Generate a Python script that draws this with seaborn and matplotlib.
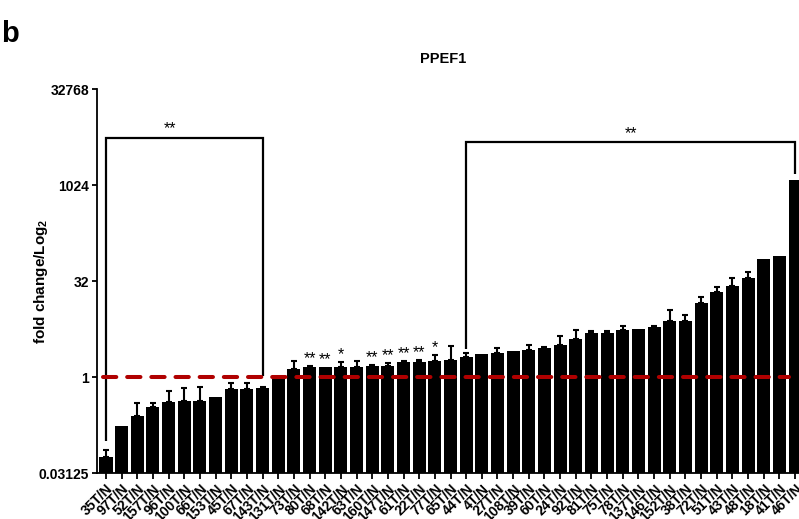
import numpy as np
import pandas as pd
import matplotlib
matplotlib.use("Agg")
import matplotlib.pyplot as plt
import seaborn as sns

# Samples ordered by tumour/normal fold change
samples = [
    "35T/N", "97T/N", "52T/N", "157T/N", "96T/N", "100T/N", "66T/N", "153T/N",
    "45T/N", "67T/N", "143T/N", "131T/N", "73T/N", "80T/N", "68T/N", "142T/N",
    "63T/N", "160T/N", "147T/N", "61T/N", "22T/N", "77T/N", "65T/N", "44T/N",
    "4T/N", "27T/N", "108T/N", "39T/N", "60T/N", "24T/N", "92T/N", "81T/N",
    "75T/N", "78T/N", "137T/N", "146T/N", "152T/N", "38T/N", "72T/N", "51T/N",
    "43T/N", "48T/N", "18T/N", "41T/N", "46T/N",
]
fold_change = [
    0.056, 0.172, 0.241, 0.341, 0.406, 0.42, 0.42, 0.48,
    0.646, 0.646, 0.664, 0.933, 1.34, 1.41, 1.45, 1.45,
    1.45, 1.5, 1.5, 1.74, 1.69, 1.78, 1.87, 2.03,
    2.3, 2.35, 2.58, 2.66, 2.89, 3.18, 3.95, 4.89,
    4.96, 5.46, 5.74, 6.15, 7.57, 7.57, 14.3, 21.7,
    27.1, 35.8, 71.0, 77.7, 1243.0,
]
sem_upper = [
    0.016, 0.0, 0.146, 0.046, 0.197, 0.258, 0.277, 0.0,
    0.161, 0.161, 0.043, 0.0, 0.44, 0.09, 0.0, 0.24,
    0.33, 0.06, 0.16, 0.04, 0.16, 0.45, 1.23, 0.32,
    0.0, 0.54, 0.0, 0.52, 0.10, 1.26, 1.51, 0.42,
    0.32, 0.90, 0.0, 0.21, 3.73, 1.93, 3.5, 4.3,
    8.2, 7.9, 0.0, 0.0, 0.0,
]
double_star = ["80T/N", "68T/N", "160T/N", "147T/N", "61T/N", "22T/N"]
single_star = ["142T/N", "77T/N"]
y_ticks = [0.03125, 1, 32, 1024, 32768]
y_tick_labels = ["0.03125", "1", "32", "1024", "32768"]

sns.set_style("ticks")
plt.rcParams["font.family"] = ["Liberation Sans", "DejaVu Sans"]
plt.rcParams["font.weight"] = "bold"
plt.rcParams["mathtext.fontset"] = "custom"
plt.rcParams["mathtext.rm"] = "Liberation Sans:bold"
plt.rcParams["mathtext.default"] = "rm"
for key in ["text.color", "axes.labelcolor", "xtick.color", "ytick.color",
            "axes.edgecolor"]:
    plt.rcParams[key] = "black"

fig = plt.figure(figsize=(7.99, 5.19), dpi=100)
ax = fig.add_axes([0.1214, 0.0886, 0.8786, 0.7399])
ax.set_yscale("log", base=2)

df = pd.DataFrame({"sample": samples, "fc": fold_change})
sns.barplot(data=df, x="sample", y="fc", color="black", saturation=1,
            width=0.84, errorbar=None, edgecolor="none", ax=ax, zorder=2)

fc = np.array(fold_change)
err = np.array(sem_upper)
idx = np.where(err > 0)[0]
ax.errorbar(idx, fc[idx], yerr=[np.zeros(len(idx)), err[idx]], fmt="none",
            ecolor="black", elinewidth=1.5, capsize=2.3, capthick=1.5, zorder=3)

# reference level at fold change = 1
ax.plot([-0.2, 43.6], [1, 1], color="#B00000", lw=2.9, dashes=(3.3, 2.7),
        dash_capstyle="round", zorder=5)

# significance marks on individual samples
top = fc + err
for name in double_star + single_star:
    i = samples.index(name)
    mark = "**" if name in double_star else "*"
    ax.annotate(mark, (i, top[i]), xytext=(0, 0), textcoords="offset points",
                ha="center", va="bottom", fontsize=11.5, fontweight="normal")

# group brackets
bk = dict(color="black", lw=1.6, solid_joinstyle="miter", solid_capstyle="butt",
          zorder=4, clip_on=False)
ax.plot([0, 0, 10, 10], [0.099, 5600, 5600, 1.04], **bk)
ax.plot([23, 23, 44, 44], [2.75, 4830, 4830, 1520], **bk)
ax.annotate("**", (4.1, 5600), xytext=(0, 1), textcoords="offset points",
            ha="center", va="bottom", fontsize=11.5, fontweight="normal")
ax.annotate("**", (33.5, 4830), xytext=(0, 1), textcoords="offset points",
            ha="center", va="bottom", fontsize=11.5, fontweight="normal")

ax.set_ylim(2 ** -5, 2 ** 15)
ax.set_xlim(-0.57, 44.25)
ax.set_yticks(y_ticks)
ax.set_yticklabels(y_tick_labels, fontsize=10, fontweight="bold")
ax.minorticks_off()
ax.set_xticks(range(len(samples)))
ax.set_xticklabels(samples, rotation=45, ha="right", rotation_mode="anchor",
                   fontsize=10, fontweight="bold")
ax.tick_params(axis="y", length=3.5, width=1.3, pad=2)
ax.tick_params(axis="x", length=4.5, width=1.3, pad=2)
for s in ["left", "bottom"]:
    ax.spines[s].set_linewidth(1.3)
sns.despine(ax=ax)

ax.set_xlabel("")
ax.set_ylabel("fold change/Log$_2$", fontsize=11, fontweight="bold")
ax.yaxis.set_label_coords(-0.067, 0.5)

fig.text(443 / 799, 1 - 59 / 519, "PPEF1", ha="center", va="center",
         fontsize=10.5, fontweight="bold")
fig.text(0.002, 1 - 42 / 519, "b", ha="left", va="baseline",
         fontsize=21, fontweight="bold")

fig.savefig("out.png", dpi=100, facecolor="white")
